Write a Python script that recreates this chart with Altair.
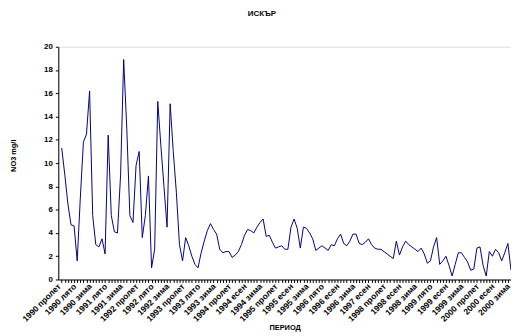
import altair as alt
import pandas as pd

values = [
    11.3, 9.0, 6.5, 4.7, 4.6, 1.6, 7.0, 11.8, 12.5, 16.2,
    5.5, 3.0, 2.8, 3.5, 2.2, 12.4, 5.5, 4.1, 4.0, 9.0,
    18.9, 13.0, 5.5, 4.9, 9.8, 11.0, 3.6, 5.5, 8.9, 1.0,
    2.6, 15.3, 11.5, 8.0, 4.5, 15.1, 11.0, 7.5, 3.0, 1.6,
    3.6, 2.9, 2.0, 1.3, 1.0, 2.3, 3.3, 4.2, 4.8, 4.3,
    3.9, 2.6, 2.3, 2.4, 2.4, 1.9, 2.1, 2.4, 3.0, 3.8,
    4.3, 4.2, 4.0, 4.5, 4.9, 5.2, 3.7, 3.8, 3.2, 2.7,
    2.8, 2.9, 2.6, 2.6, 4.5, 5.2, 4.4, 2.7, 4.5, 4.4,
    4.0, 3.5, 2.5, 2.7, 2.9, 2.7, 2.5, 3.0, 2.9, 3.5,
    3.9, 3.1, 2.9, 3.3, 3.9, 3.9, 3.1, 3.0, 3.2, 3.5,
    3.0, 2.7, 2.6, 2.6, 2.4, 2.2, 2.0, 1.8, 3.3, 2.1,
    2.8, 3.3, 3.0, 2.8, 2.6, 2.4, 2.7, 2.2, 1.4, 1.6,
    2.8, 3.6, 1.3, 1.6, 2.0, 1.2, 0.3, 1.3, 2.3, 2.3,
    1.9, 1.5, 0.8, 0.9, 2.7, 2.8, 1.2, 0.3, 2.4, 2.0,
    2.6, 2.3, 1.6, 2.3, 3.1, 0.8,
]

tick_labels = [
    "1990 пролет", "1990 лято", "1990 зима", "1991 лято", "1991 зима",
    "1992 пролет", "1992 лято", "1992 зима", "1993 пролет", "1993 лято",
    "1993 зима", "1994 пролет", "1994 есен", "1994 зима", "1995 пролет",
    "1995 есен", "1995 зима", "1996 лято", "1996 есен", "1996 зима",
    "1997 есен", "1998 пролет", "1998 есен", "1998 зима", "1999 лято",
    "1999 есен", "1999 зима", "2000 пролет", "2000 есен", "2000 зима",
]

label_step = 5
df = pd.DataFrame({"idx": list(range(len(values))), "value": values})

arr = "[" + ",".join("'" + s + "'" for s in tick_labels) + "]"
label_expr = f"datum.value % {label_step} === 0 ? {arr}[datum.value / {label_step}] : ''"

FONT = "Liberation Sans"

chart = alt.Chart(df).mark_line(color="#000080", strokeWidth=1).encode(
    x=alt.X(
        "idx:Q",
        scale=alt.Scale(domain=[-1.1, len(values) - 1], nice=False, zero=False),
        axis=alt.Axis(
            values=list(range(len(values))),
            labelExpr=label_expr,
            labelOverlap=False,
            labelAngle=-45,
            labelAlign="right",
            labelBaseline="middle",
            labelFont=FONT,
            labelFontSize=8.5,
            labelFontWeight="bold",
            labelColor="black",
            labelPadding=2,
            labelOffset=-3,
            tickSize=3,
            tickColor="black",
            domainColor="black",
            grid=False,
            title="ПЕРИОД",
            titleFont=FONT,
            titleFontSize=7.5,
            titleFontWeight="bold",
            titleColor="black",
            titleBaseline="bottom",
            titleY=53,
        ),
    ),
    y=alt.Y(
        "value:Q",
        scale=alt.Scale(domain=[0, 20], nice=False),
        axis=alt.Axis(
            values=list(range(0, 21, 2)),
            labelFont=FONT,
            labelFontSize=8,
            labelFontWeight="bold",
            labelColor="black",
            labelPadding=3,
            tickSize=3,
            tickColor="black",
            domainColor="black",
            grid=False,
            title="NO3 mg/l",
            titleFont=FONT,
            titleFontSize=7.5,
            titleFontWeight="bold",
            titleColor="black",
            titleAngle=-90,
            titleAlign="center",
            titleBaseline="middle",
            titleX=-45,
            titleY=110,
        ),
    ),
).properties(
    width=459,
    height=236,
    autosize=alt.AutoSizeParams(type="none"),
    padding={"left": 51, "top": 37, "right": 0, "bottom": 55},
    title=alt.TitleParams(
        "ИСКЪР",
        font=FONT,
        fontSize=8,
        fontWeight="bold",
        color="black",
        anchor="middle",
        offset=25,
        dx=-23,
    ),
).configure_view(stroke=None).configure(background="white")

chart.save("out.html", embed_options={"renderer": "svg", "actions": False})
